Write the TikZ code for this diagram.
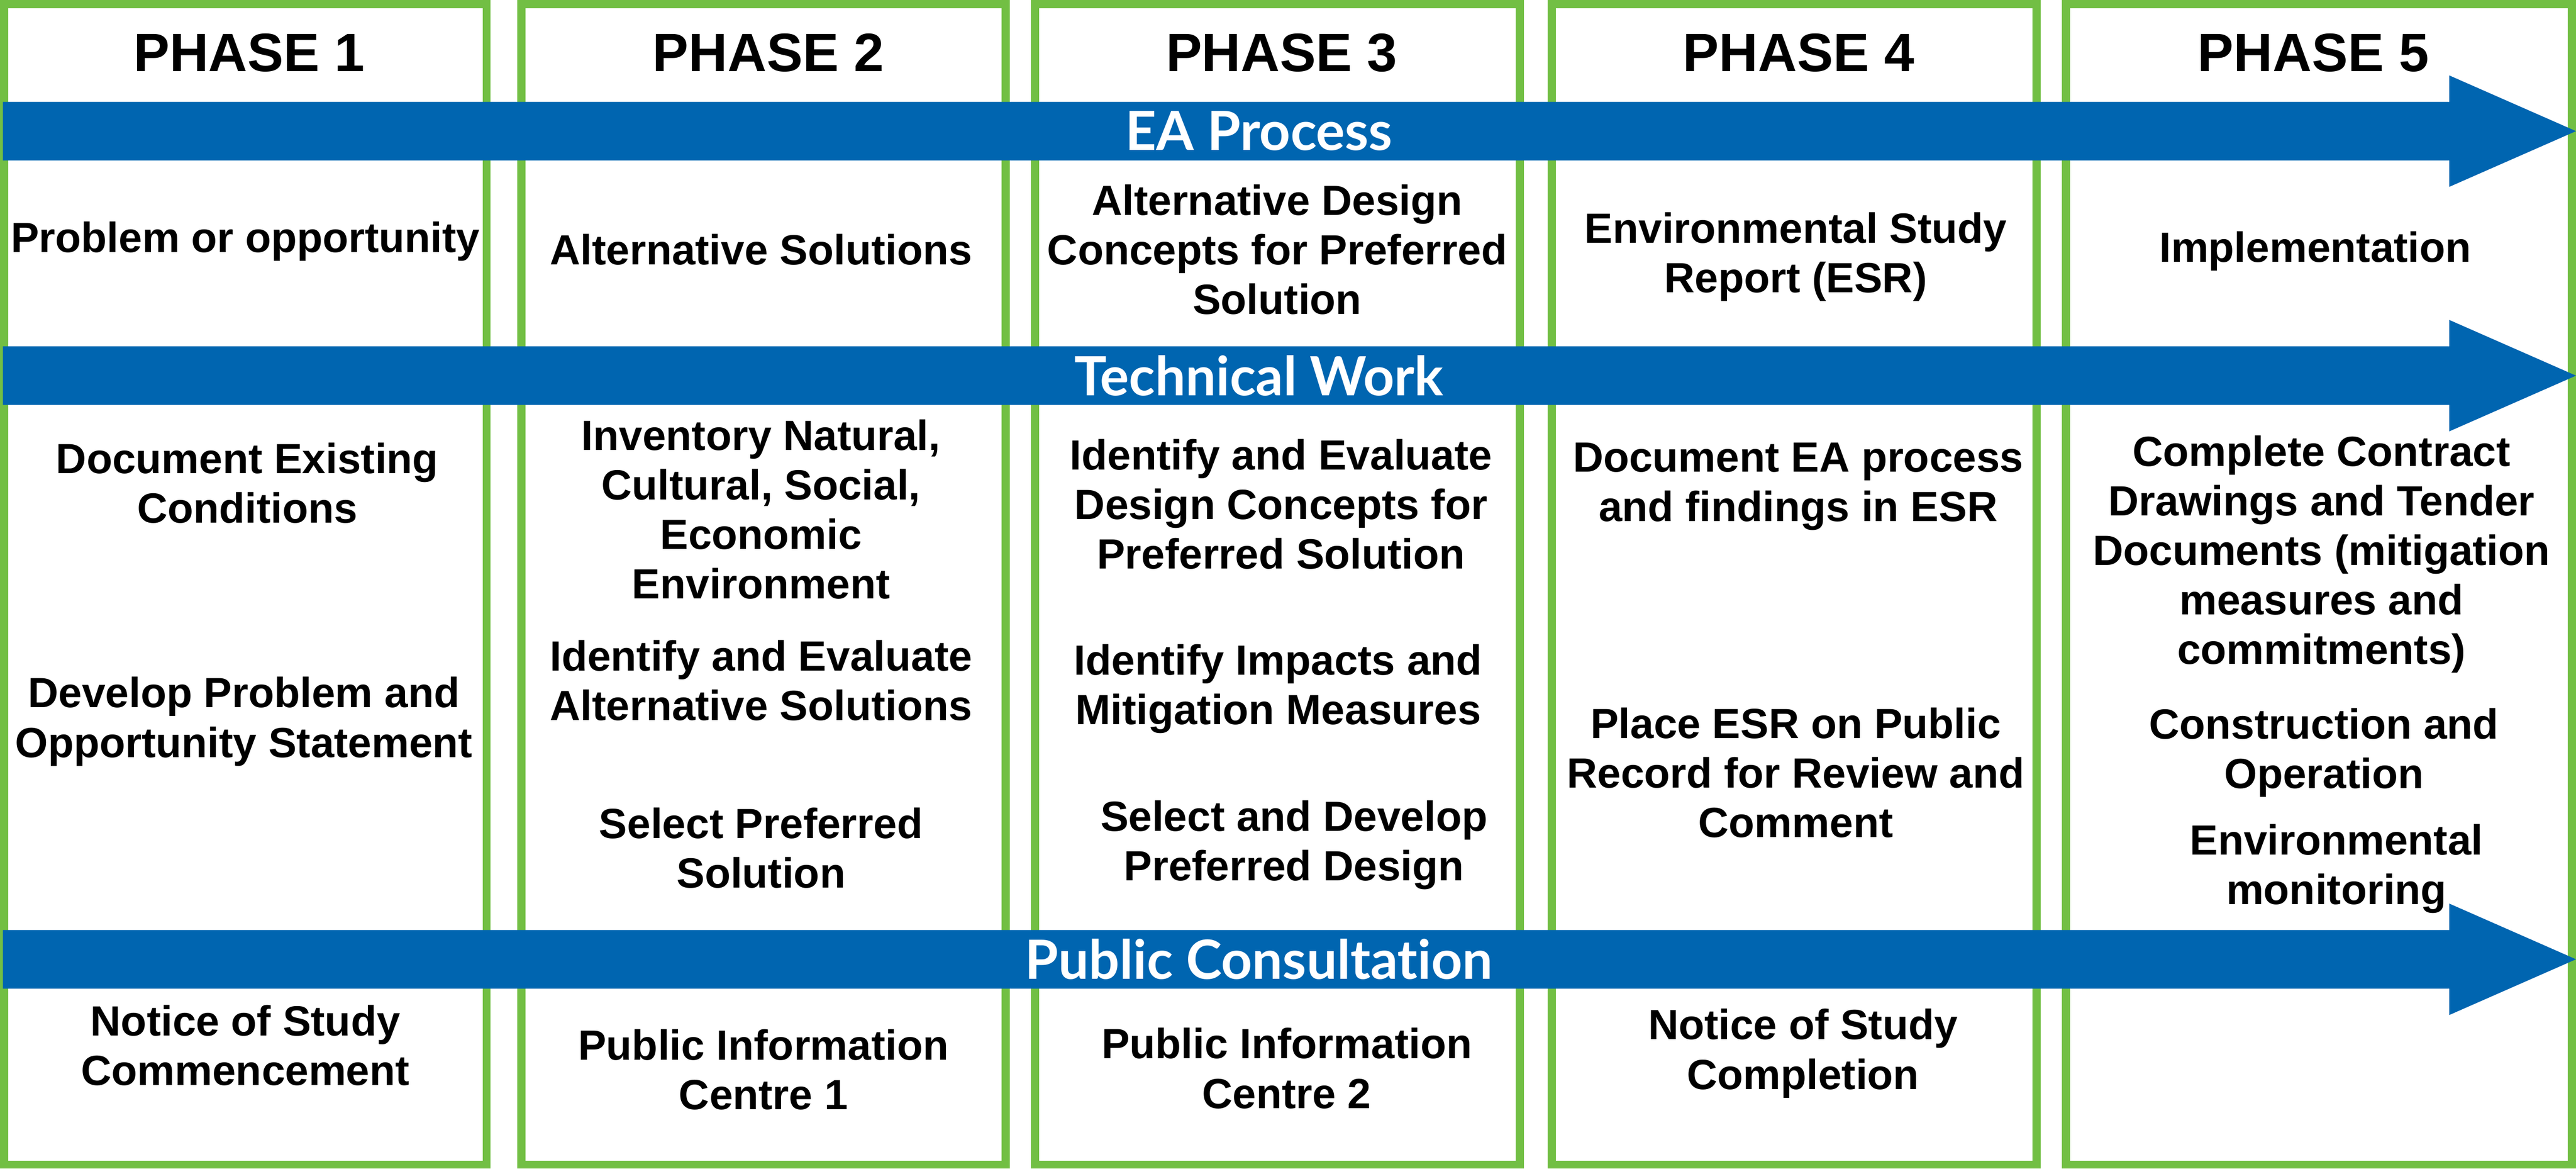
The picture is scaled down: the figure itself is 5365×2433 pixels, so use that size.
\documentclass[tikz,border=0pt]{standalone}
\usepackage{fontspec}
\setmainfont{Liberation Sans}
\newfontfamily\barfont[Ligatures=NoCommon]{Lato}
\definecolor{phasegreen}{RGB}{114,191,68}
\definecolor{barblue}{RGB}{0,101,176}
\tikzset{
  phasebox/.style={draw=phasegreen,line width=4.8pt},
  phaselabel/.style={font=\fontsize{32}{38}\selectfont\bfseries},
  task/.style={align=center,font=\fontsize{25}{29.3}\selectfont\bfseries},
  barlabel/.style={text=white,font=\barfont\fontsize{32}{38}\selectfont\bfseries},
  flowbar/.style={fill=barblue}
}

\begin{document}
\begin{tikzpicture}[x=0.01cm,y=-0.01cm]
	\useasboundingbox (0,0) rectangle (5365,2433);
	% phase columns
	\foreach \a/\b/\c/\n in {0/1022/519/1,1077/2103/1600/2,2147/3174/2669/3,3223/4250/3746/4,4294/5365/4818/5}{
		\draw[phasebox] (\a+8.5,8.5) rectangle (\b-8.5,2424.5);
		\node[phaselabel] (phase\n) at (\c,110) {PHASE \n};
	}
	% process bars
	\foreach \y/\t/\nm in {273/EA Process/ea,782/Technical Work/tech,1997/Public Consultation/pub}{
		\fill[flowbar] (6,\y-61) -- (5101,\y-61) -- (5101,\y-116) -- (5365,\y) -- (5101,\y+116) -- (5101,\y+61) -- (6,\y+61) -- cycle;
		\node[barlabel] (\nm) at (2622,\y) {\t};
	}
	% phase 1
	\node[task] (prob) at (511,503) {Problem or opportunity};
	\node[task] (docex) at (515,1006) {Document Existing\\Conditions};
	\node[task] (devprob) at (508,1502) {Develop Problem and\\Opportunity Statement};
	\node[task] (notstart) at (511,2176) {Notice of Study\\Commencement};
	% phase 2
	\node[task] (altsol) at (1585,520) {Alternative Solutions};
	\node[task] (inv) at (1585,1060) {Inventory Natural,\\Cultural, Social,\\Economic\\Environment};
	\node[task] (ideval) at (1585,1417) {Identify and Evaluate\\Alternative Solutions};
	\node[task] (selpref) at (1585,1765) {Select Preferred\\Solution};
	\node[task] (pic1) at (1590,2227) {Public Information\\Centre 1};
	% phase 3
	\node[task] (altdes) at (2660,520) {Alternative Design\\Concepts for Preferred\\Solution};
	\node[task] (iddes) at (2668,1050) {Identify and Evaluate\\Design Concepts for\\Preferred Solution};
	\node[task] (idimp) at (2662,1434) {Identify Impacts and\\Mitigation Measures};
	\node[task] (seldev) at (2695,1759) {Select and Develop\\Preferred Design};
	\node[task] (pic2) at (2680,2224) {Public Information\\Centre 2};
	% phase 4
	\node[task] (esr) at (3740,535) {Environmental Study\\Report (ESR)};
	\node[task] (docea) at (3745,1013) {Document EA process\\and findings in ESR};
	\node[task] (place) at (3740,1609) {Place ESR on Public\\Record for Review and\\Comment};
	\node[task] (notend) at (3755,2193) {Notice of Study\\Completion};
	% phase 5
	\node[task] (impl) at (4822,523) {Implementation};
	\node[task] (contract) at (4835,1154) {Complete Contract\\Drawings and Tender\\Documents (mitigation\\measures and\\commitments)};
	\node[task] (constr) at (4840,1567) {Construction and\\Operation};
	\node[task] (monitor) at (4866,1808) {Environmental\\monitoring};
\end{tikzpicture}
\end{document}
